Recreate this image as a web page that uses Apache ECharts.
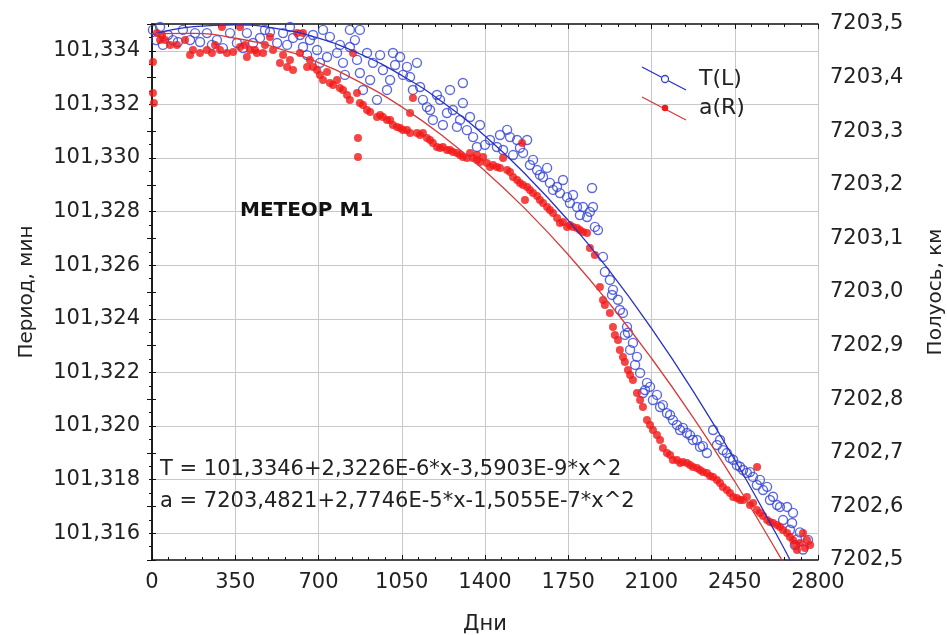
<!DOCTYPE html>
<html>
<head>
<meta charset="utf-8">
<script src="https://cdn.jsdelivr.net/npm/echarts@6/dist/echarts.min.js"></script>
<style>
html,body{margin:0;padding:0;background:#fff;}
#main{width:947px;height:635px;}
</style>
</head>
<body>
<div id="main"></div>
<script>
// дни, значения
var periodPts = [
  [4,101.33478],[17,101.33440],[34,101.33489],[46,101.33422],[67,101.33459],[88,101.33440],[109,101.33433],
  [130,101.33478],[160,101.33440],[181,101.33466],[202,101.33433],[231,101.33466],[252,101.33422],
  [273,101.33440],[298,101.33410],[328,101.33466],[357,101.33429],[383,101.33410],[399,101.33466],
  [425,101.33429],[454,101.33448],[475,101.33478],[496,101.33470],[526,101.33429],[551,101.33466],
  [568,101.33422],[580,101.33489],[593,101.33448],[622,101.33459],[635,101.33414],[652,101.33384],
  [664,101.33440],[677,101.33459],[694,101.33403],[706,101.33355],[719,101.33478],[736,101.33377],
  [748,101.33452],[778,101.33392],[790,101.33422],[803,101.33355],[811,101.33310],[832,101.33478],
  [832,101.33414],[853,101.33440],[862,101.33366],[874,101.33478],[874,101.33317],[887,101.33254],
  [904,101.33392],[917,101.33291],[929,101.33355],[946,101.33217],[959,101.33384],[971,101.33328],
  [988,101.33254],[1001,101.33291],[1013,101.33392],[1022,101.33347],[1043,101.33377],[1055,101.33310],
  [1072,101.33340],[1085,101.33302],[1097,101.33254],[1114,101.33355],[1127,101.33265],[1139,101.33217],
  [1156,101.33190],[1169,101.33179],[1181,101.33142],[1198,101.33235],[1211,101.33217],[1223,101.33123],
  [1240,101.33168],[1253,101.33254],[1265,101.33179],[1282,101.33116],[1295,101.33142],[1307,101.33280],
  [1307,101.33205],[1324,101.33104],[1337,101.33153],[1350,101.33078],[1366,101.33041],[1379,101.33123],
  [1400,101.33049],[1421,101.33067],[1450,101.33041],[1463,101.33086],[1476,101.33030],[1493,101.33105],
  [1505,101.33078],[1518,101.33011],[1535,101.33067],[1547,101.33038],[1560,101.33019],[1577,101.33067],
  [1589,101.32974],[1602,101.32993],[1619,101.32955],[1631,101.32937],[1644,101.32929],[1661,101.32963],
  [1673,101.32907],[1686,101.32881],[1703,101.32892],[1715,101.32869],[1728,101.32918],[1745,101.32854],
  [1757,101.32832],[1770,101.32862],[1787,101.32817],[1799,101.32787],[1812,101.32817],[1829,101.32780],
  [1841,101.32799],[1850,101.32888],[1854,101.32817],[1862,101.32743],[1875,101.32731],[1896,101.32631],
  [1904,101.32575],[1925,101.32545],[1934,101.32489],[1938,101.32508],[1959,101.32471],[1967,101.32433],
  [1980,101.32422],[1988,101.32340],[1997,101.32370],[2001,101.32348],[2010,101.32284],[2022,101.32310],
  [2031,101.32228],[2039,101.32258],[2052,101.32198],[2064,101.32123],[2073,101.32134],[2081,101.32161],
  [2094,101.32146],[2106,101.32097],[2123,101.32116],[2136,101.32071],[2148,101.32078],[2165,101.32048],
  [2178,101.32041],[2190,101.32022],[2207,101.32004],[2220,101.31985],[2232,101.31993],[2249,101.31974],
  [2262,101.31966],[2274,101.31948],[2291,101.31948],[2304,101.31922],[2316,101.31925],[2333,101.31899],
  [2359,101.31985],[2375,101.31929],[2388,101.31948],[2400,101.31910],[2417,101.31899],[2430,101.31881],
  [2443,101.31874],[2459,101.31854],[2472,101.31848],[2485,101.31836],[2501,101.31825],[2514,101.31828],
  [2527,101.31810],[2543,101.31780],[2556,101.31799],[2569,101.31761],[2586,101.31773],[2598,101.31724],
  [2611,101.31736],[2628,101.31705],[2640,101.31698],[2653,101.31649],[2670,101.31698],[2682,101.31613],
  [2691,101.31638],[2695,101.31676],[2703,101.31556],[2712,101.31577],[2724,101.31603],[2737,101.31539],
  [2758,101.31575]
];
var axisPts = [
  [4,7203.4291],[8,7203.3526],[4,7203.3713],[21,7203.4832],[34,7203.4701],[42,7203.4795],[55,7203.4701],
  [76,7203.4608],[105,7203.4608],[139,7203.4701],[160,7203.4422],[172,7203.4515],[202,7203.4459],
  [231,7203.4515],[252,7203.4459],[265,7203.4608],[286,7203.4515],[294,7203.4944],[315,7203.4459],
  [341,7203.4478],[370,7203.4944],[370,7203.4571],[391,7203.4608],[399,7203.4384],[412,7203.4515],
  [433,7203.4515],[441,7203.4459],[467,7203.4459],[475,7203.4608],[496,7203.4757],[509,7203.4515],
  [538,7203.4272],[551,7203.4422],[568,7203.4198],[580,7203.4328],[593,7203.4142],[610,7203.4832],
  [622,7203.4459],[635,7203.4832],[652,7203.4198],[664,7203.4328],[677,7203.4198],[694,7203.4142],
  [706,7203.4048],[719,7203.3955],[736,7203.4104],[748,7203.3899],[761,7203.3862],[778,7203.3955],
  [790,7203.3806],[803,7203.3769],[820,7203.3675],[832,7203.3582],[845,7203.4459],[862,7203.3713],
  [866,7203.2873],[866,7203.2519],[874,7203.3526],[887,7203.3489],[904,7203.3396],[917,7203.3358],
  [946,7203.3265],[959,7203.3302],[971,7203.3265],[988,7203.3209],[1001,7203.3209],[1013,7203.3116],
  [1030,7203.3078],[1043,7203.3060],[1055,7203.3022],[1072,7203.3022],[1085,7203.2966],[1085,7203.3340],
  [1097,7203.3619],[1114,7203.2966],[1127,7203.2929],[1139,7203.2966],[1156,7203.2873],[1169,7203.2836],
  [1181,7203.2780],[1198,7203.2705],[1211,7203.2687],[1223,7203.2705],[1240,7203.2649],[1253,7203.2649],
  [1265,7203.2612],[1282,7203.2593],[1295,7203.2556],[1307,7203.2519],[1324,7203.2500],[1337,7203.2593],
  [1349,7203.2500],[1366,7203.2463],[1366,7203.2556],[1379,7203.2425],[1392,7203.2519],[1408,7203.2407],
  [1421,7203.2332],[1434,7203.2369],[1450,7203.2332],[1463,7203.2313],[1476,7203.2500],[1493,7203.2276],
  [1505,7203.2239],[1518,7203.2146],[1535,7203.2090],[1547,7203.2034],[1556,7203.2780],[1560,7203.1996],
  [1568,7203.1716],[1577,7203.1959],[1589,7203.1903],[1602,7203.1847],[1619,7203.1791],[1631,7203.1716],
  [1644,7203.1660],[1661,7203.1586],[1673,7203.1530],[1686,7203.1474],[1703,7203.1381],[1715,7203.1287],
  [1728,7203.1306],[1745,7203.1213],[1757,7203.1250],[1770,7203.1213],[1787,7203.1194],[1799,7203.1157],
  [1812,7203.1119],[1829,7203.1101],[1841,7203.0821],[1862,7203.0690],[1883,7203.0093],[1896,7202.9851],
  [1904,7202.9757],[1925,7202.9608],[1938,7202.9347],[1946,7202.9198],[1959,7202.9104],[1967,7202.8918],
  [1980,7202.8787],[1988,7202.8694],[2001,7202.8545],[2010,7202.8451],[2022,7202.8358],[2039,7202.8116],
  [2052,7202.7985],[2064,7202.7854],[2081,7202.7612],[2094,7202.7519],[2106,7202.7425],[2123,7202.7332],
  [2136,7202.7239],[2148,7202.7090],[2165,7202.6996],[2178,7202.6959],[2190,7202.6866],[2207,7202.6866],
  [2220,7202.6810],[2232,7202.6828],[2249,7202.6810],[2262,7202.6772],[2274,7202.6735],[2291,7202.6716],
  [2304,7202.6679],[2316,7202.6642],[2333,7202.6623],[2346,7202.6567],[2359,7202.6548],[2375,7202.6492],
  [2388,7202.6436],[2400,7202.6362],[2417,7202.6306],[2430,7202.6250],[2443,7202.6175],[2459,7202.6157],
  [2472,7202.6119],[2485,7202.6119],[2501,7202.6175],[2514,7202.6026],[2527,7202.6063],[2543,7202.5933],
  [2544,7202.6735],[2556,7202.5877],[2569,7202.5821],[2586,7202.5746],[2598,7202.5709],[2611,7202.5690],
  [2628,7202.5653],[2640,7202.5616],[2653,7202.5560],[2670,7202.5504],[2682,7202.5429],[2695,7202.5373],
  [2703,7202.5280],[2712,7202.5187],[2724,7202.5317],[2737,7202.5504],[2745,7202.5224],[2754,7202.5373],
  [2767,7202.5280]
];
// аппроксимирующие кривые (значения по уравнениям на графике)
var fitDays = [0,175,350,525,700,875,1050,1225,1400,1575,1750,1925,2100,2275,2450,2625,2700];
var fitT = [101.3346,101.33490,101.33497,101.33483,101.33447,101.33388,101.33308,101.33206,101.33082,
  101.32935,101.32767,101.32577,101.32364,101.32130,101.31874,101.31596,101.31470];
var fitA = [7203.4821,7203.4824,7203.4734,7203.4552,7203.4278,7203.3911,7203.3453,7203.2902,7203.2259,
  7203.1523,7203.0696,7202.9776,7202.8764,7202.7660,7202.6464,7202.5176,7202.4595];
var dayTicks = [0,2800,350];
var eqT = 'T = 101,3346+2,3226E-6*x-3,5903E-9*x^2';
var eqA = 'a = 7203,4821+2,7746E-5*x-1,5055E-7*x^2';

function pairs(xs, ys){
  var out = [];
  for (var i = 0; i < xs.length; i++) out.push([xs[i], ys[i]]);
  return out;
}

var FONT = 'DejaVu Sans';
var BLUE = '#3344d6';
var RED = '#f21818';

var myChart = echarts.init(document.getElementById('main'));
var option = {
  backgroundColor: '#fff',
  animation: false,
  textStyle: {fontFamily: FONT},
  grid: {left: 152, right: 129, top: 24, bottom: 75, outerBoundsMode: 'none'},
  xAxis: [
    {
      type: 'value', min: dayTicks[0], max: dayTicks[1], interval: dayTicks[2],
      name: 'Дни', nameLocation: 'middle', nameGap: 54,
      nameTextStyle: {fontSize: 21, color: '#222', fontFamily: FONT},
      axisLine: {lineStyle: {color: '#111', width: 1.5}},
      axisTick: {inside: true, length: 5, lineStyle: {color: '#111'}},
      minorTick: {show: true, splitNumber: 5, length: 3, lineStyle: {color: '#111'}},
      axisLabel: {fontSize: 21, color: '#222', margin: 12, fontFamily: FONT,
        formatter: function(v){ return String(v); }},
      splitLine: {show: true, lineStyle: {color: '#c8c8c8', width: 1}}
    },
    {
      type: 'value', position: 'top', min: dayTicks[0], max: dayTicks[1], interval: dayTicks[2],
      axisLine: {lineStyle: {color: '#111', width: 1.5}},
      axisTick: {inside: true, length: 5, lineStyle: {color: '#111'}},
      minorTick: {show: true, splitNumber: 5, length: 3, lineStyle: {color: '#111'}},
      axisLabel: {show: false},
      splitLine: {show: false}
    }
  ],
  yAxis: [
    {
      type: 'value', min: 101.315, max: 101.335, interval: 0.001,
      name: 'Период, мин', nameLocation: 'middle', nameGap: 115, nameRotate: 90,
      nameTextStyle: {fontSize: 20, color: '#222', fontFamily: FONT},
      axisLine: {show: true, lineStyle: {color: '#111', width: 1.5}},
      axisTick: {show: true, inside: true, length: 4, lineStyle: {color: '#111'}},
      axisLabel: {
        fontSize: 21, color: '#222', margin: 12, fontFamily: FONT,
        formatter: function(v){
          if (Math.round(v * 1000) % 2 !== 0) return '';
          return v.toFixed(3).replace('.', ',');
        }
      },
      splitLine: {show: true, lineStyle: {color: ['rgba(0,0,0,0)', '#c8c8c8'], width: 1}}
    },
    {
      type: 'value', min: 7202.5, max: 7203.5, interval: 0.1, position: 'right',
      name: 'Полуось, км', nameLocation: 'middle', nameGap: 108, nameRotate: 90,
      nameTextStyle: {fontSize: 20, color: '#222', fontFamily: FONT},
      axisLine: {show: true, lineStyle: {color: '#111', width: 1.5}},
      axisTick: {show: true, inside: true, length: 5, lineStyle: {color: '#111'}},
      minorTick: {show: true, splitNumber: 4, length: 3, lineStyle: {color: '#111'}},
      axisLabel: {
        fontSize: 21, color: '#222', margin: 12, fontFamily: FONT,
        formatter: function(v){ return v.toFixed(1).replace('.', ','); }
      },
      splitLine: {show: false}
    }
  ],
  series: [
    {
      name: 'T(L)', type: 'scatter', xAxisIndex: 0, yAxisIndex: 0,
      symbol: 'circle', symbolSize: 9,
      itemStyle: {color: 'rgba(255,255,255,0)', borderColor: BLUE, borderWidth: 1.4},
      data: periodPts, z: 2
    },
    {
      name: 'a(R)', type: 'scatter', xAxisIndex: 0, yAxisIndex: 1,
      symbol: 'circle', symbolSize: 8,
      itemStyle: {color: RED},
      data: axisPts, z: 3
    },
    {
      type: 'line', xAxisIndex: 0, yAxisIndex: 0, smooth: true, showSymbol: false,
      lineStyle: {color: '#2630c8', width: 1.3},
      data: pairs(fitDays, fitT), z: 4
    },
    {
      type: 'line', xAxisIndex: 0, yAxisIndex: 1, smooth: true, showSymbol: false,
      lineStyle: {color: '#d83a3a', width: 1.3},
      data: pairs(fitDays, fitA), z: 4
    }
  ],
  graphic: [
    {type: 'text', left: 240, top: 201, z: 10,
      style: {text: 'МЕТЕОР М1', font: 'bold 20px "DejaVu Sans"', fill: '#111'}},
    {type: 'text', left: 160, top: 459, z: 10,
      style: {text: eqT, font: '21px "DejaVu Sans"', fill: '#222'}},
    {type: 'text', left: 160, top: 491, z: 10,
      style: {text: eqA, font: '21px "DejaVu Sans"', fill: '#222'}},
    // легенда
    {type: 'line', z: 10, shape: {x1: 642, y1: 67, x2: 686, y2: 90}, style: {stroke: '#2630c8', lineWidth: 1.3}},
    {type: 'circle', z: 11, shape: {cx: 665, cy: 79, r: 3.5}, style: {fill: '#fff', stroke: BLUE, lineWidth: 1.3}},
    {type: 'text', z: 10, left: 699, top: 68, style: {text: 'T(L)', font: '22px "DejaVu Sans"', fill: '#222'}},
    {type: 'line', z: 10, shape: {x1: 642, y1: 97, x2: 686, y2: 120}, style: {stroke: '#d83a3a', lineWidth: 1.3}},
    {type: 'circle', z: 11, shape: {cx: 665, cy: 108, r: 3.2}, style: {fill: RED}},
    {type: 'text', z: 10, left: 699, top: 97, style: {text: 'a(R)', font: '22px "DejaVu Sans"', fill: '#222'}}
  ]
};
myChart.setOption(option, true);
</script>
</body>
</html>
